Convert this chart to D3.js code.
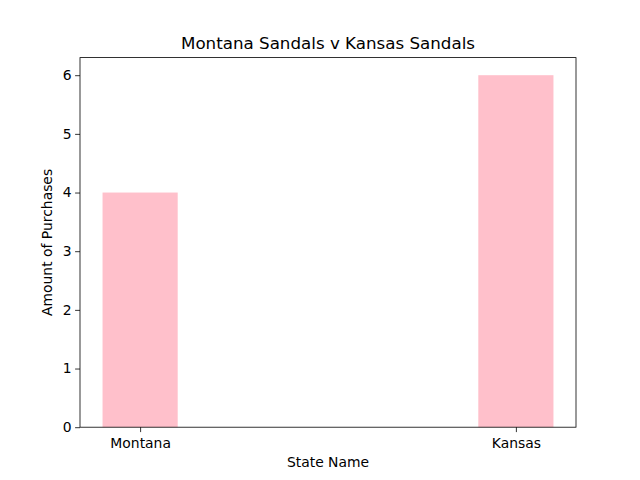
<!DOCTYPE html>
<html>
<head>
<meta charset="utf-8">
<script src="https://cdn.jsdelivr.net/npm/d3@7"></script>
<style>
  body { margin: 0; background: #fff; }
  svg { display: block; font-family: "DejaVu Sans", sans-serif; }
</style>
</head>
<body>
<svg id="chart" width="640" height="480"></svg>
<script>
const states = ["Montana", "Kansas"];
const purchases = [4, 6];
const yTicks = [0, 1, 2, 3, 4, 5, 6];

const W = 640, H = 480;
const margin = {left: 80, right: 64, top: 57.6, bottom: 52.8};
const plotW = W - margin.left - margin.right;
const plotH = H - margin.top - margin.bottom;
const barWidth = 0.2;

const svg = d3.select("#chart");
const g = svg.append("g").attr("transform", `translate(${margin.left},${margin.top})`);

// matplotlib-like auto limits with 5% margins on x
const span = (states.length - 1) + barWidth;
const pad = span * 0.05;
const x = d3.scaleLinear()
  .domain([-barWidth / 2 - pad, states.length - 1 + barWidth / 2 + pad])
  .range([0, plotW]);
const y = d3.scaleLinear()
  .domain([0, d3.max(purchases) * 1.05])
  .range([plotH, 0]);

g.selectAll("rect.bar")
  .data(purchases)
  .enter().append("rect")
    .attr("class", "bar")
    .attr("x", (d, i) => x(i - barWidth / 2))
    .attr("width", (d, i) => x(i + barWidth / 2) - x(i - barWidth / 2))
    .attr("y", d => y(d))
    .attr("height", d => y(0) - y(d))
    .attr("fill", "pink");

const xAxis = d3.axisBottom(x)
  .tickValues(states.map((s, i) => i))
  .tickFormat(i => states[i])
  .tickSize(4.9).tickPadding(6.5);
const yAxis = d3.axisLeft(y)
  .tickValues(yTicks)
  .tickFormat(d3.format("d"))
  .tickSize(4.9).tickPadding(3.5);

const gx = g.append("g").attr("transform", `translate(0,${plotH})`).call(xAxis);
const gy = g.append("g").call(yAxis);
[gx, gy].forEach(a => {
  a.select(".domain").remove();
  a.selectAll("text").attr("font-size", 13.9).attr("fill", "#000").attr("font-family", "DejaVu Sans");
  a.selectAll("line").attr("stroke", "#000").attr("stroke-width", 0.8);
});

// frame
g.append("rect")
  .attr("width", plotW).attr("height", plotH)
  .attr("fill", "none").attr("stroke", "#000").attr("stroke-width", 0.8);

svg.append("text")
  .attr("x", margin.left + plotW / 2).attr("y", margin.top - 8.3)
  .attr("text-anchor", "middle")
  .attr("font-size", 16.7)
  .text("Montana Sandals v Kansas Sandals");

svg.append("text")
  .attr("x", margin.left + plotW / 2).attr("y", 467)
  .attr("text-anchor", "middle")
  .attr("font-size", 13.9)
  .text("State Name");

svg.append("text")
  .attr("transform", `translate(52,${margin.top + plotH / 2}) rotate(-90)`)
  .attr("text-anchor", "middle")
  .attr("font-size", 13.9)
  .text("Amount of Purchases");
</script>
</body>
</html>
